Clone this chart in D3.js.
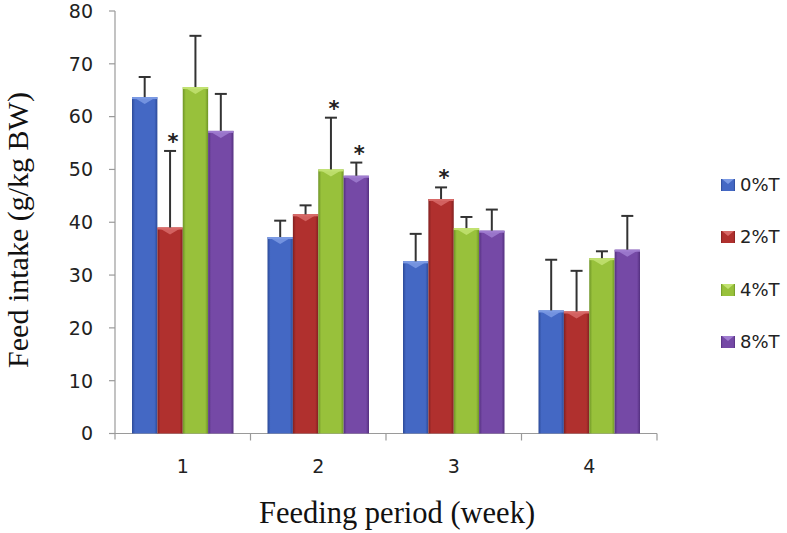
<!DOCTYPE html>
<html><head><meta charset="utf-8">
<script src="https://cdn.jsdelivr.net/npm/d3@7/dist/d3.min.js"></script>
<style>body{margin:0;background:#fff}svg{display:block}</style>
</head><body>
<svg id="c" width="787" height="533"></svg>
<script>
const categories = ["1","2","3","4"];
const seriesNames = ["0%T","2%T","4%T","8%T"];
const values0 = [63.7, 37.2, 32.6, 23.3];
const values2 = [39.0, 41.5, 44.4, 23.1];
const values4 = [65.6, 50.0, 38.9, 33.2];
const values8 = [57.3, 48.8, 38.4, 34.8];
const err0 = [3.8, 3.1, 5.2, 9.6];
const err2 = [14.5, 1.7, 2.2, 7.7];
const err4 = [9.7, 9.8, 2.1, 1.3];
const err8 = [7.0, 2.5, 4.0, 6.4];
const sig0 = [false,false,false,false];
const sig2 = [true,false,true,false];
const sig4 = [false,true,false,false];
const sig8 = [false,true,false,false];
const yTicks = [0,10,20,30,40,50,60,70,80];

const colors = ["#4468c4","#b0302e","#98c13b","#7549a6"];
const darks  = ["#2c4a98","#822020","#6e9426","#54307f"];
const lights = ["#7b9ae4","#d86a68","#c2e272","#a07dd0"];

const svg = d3.select("#c");
const x0 = 115, x1 = 657, yTop = 11, yBot = 433.5;
const x = d3.scaleBand().domain(categories).range([x0,x1]).paddingInner(0).paddingOuter(0);
const y = d3.scaleLinear().domain([0,80]).range([yBot,yTop]);
const inner = d3.scaleBand().domain(seriesNames).range([17, x.bandwidth()-17]).padding(0);

const tickFont = "DejaVu Sans, sans-serif";
const defs = svg.append("defs");
colors.forEach((c,i)=>{
  const g = defs.append("linearGradient").attr("id","g"+i).attr("x1","0").attr("x2","1").attr("y1","0").attr("y2","0");
  g.append("stop").attr("offset","0").attr("stop-color",darks[i]);
  g.append("stop").attr("offset","0.12").attr("stop-color",c);
  g.append("stop").attr("offset","0.5").attr("stop-color",c);
  g.append("stop").attr("offset","0.88").attr("stop-color",c);
  g.append("stop").attr("offset","1").attr("stop-color",darks[i]);
});

const vals = [values0,values2,values4,values8];
const errs = [err0,err2,err4,err8];
const sigs = [sig0,sig2,sig4,sig8];
const data = [];
seriesNames.forEach((s,si)=>categories.forEach((c,ci)=>data.push({s,si,c,v:vals[si][ci],e:errs[si][ci],sig:sigs[si][ci]})));

// axes
const axisColor = "#9a9a9a";
svg.append("line").attr("x1",x0).attr("x2",x0).attr("y1",yTop).attr("y2",yBot+6).attr("stroke",axisColor).attr("stroke-width",1.2);
svg.append("line").attr("x1",x0).attr("x2",x1).attr("y1",yBot).attr("y2",yBot).attr("stroke",axisColor).attr("stroke-width",1.2);
yTicks.forEach(t=>{
  svg.append("line").attr("x1",x0-6).attr("x2",x0).attr("y1",y(t)).attr("y2",y(t)).attr("stroke",axisColor).attr("stroke-width",1.2);
  svg.append("text").attr("x",93).attr("y",y(t)).attr("dy","0.36em").attr("text-anchor","end")
    .attr("font-family",tickFont).attr("font-size",19).attr("fill","#222").text(t);
});
categories.forEach(c=>{
  const xr = x(c)+x.bandwidth();
  svg.append("line").attr("x1",xr).attr("x2",xr).attr("y1",yBot).attr("y2",yBot+7).attr("stroke",axisColor).attr("stroke-width",1.2);
  svg.append("text").attr("x",x(c)+x.bandwidth()/2).attr("y",466).attr("dy","0.36em").attr("text-anchor","middle")
    .attr("font-family",tickFont).attr("font-size",19).attr("fill","#222").text(c);
});

// bars
const bars = svg.append("g");
data.forEach(d=>{
  const bx = x(d.c)+inner(d.s), bw = inner.bandwidth();
  const ty = y(d.v);
  bars.append("rect").attr("x",bx).attr("y",ty).attr("width",bw).attr("height",yBot-ty).attr("fill",`url(#g${d.si})`);
  bars.append("path").attr("d",`M${bx+1},${ty} L${bx+bw-1},${ty} L${bx+bw/2},${ty+7} Z`).attr("fill",lights[d.si]).attr("opacity",0.85);
  bars.append("rect").attr("x",bx).attr("y",ty).attr("width",bw).attr("height",2).attr("fill",lights[d.si]);
});
// error bars
const eg = svg.append("g").attr("stroke","#333").attr("stroke-width",2);
data.forEach(d=>{
  const cx = x(d.c)+inner(d.s)+inner.bandwidth()/2;
  const ey = y(d.v+d.e);
  eg.append("line").attr("x1",cx).attr("x2",cx).attr("y1",y(d.v)).attr("y2",ey);
  eg.append("line").attr("x1",cx-6).attr("x2",cx+6).attr("y1",ey).attr("y2",ey);
  if(d.sig){
    svg.append("text").attr("x",cx+3).attr("y",ey-2).attr("text-anchor","middle")
      .attr("font-family","DejaVu Sans, sans-serif").attr("font-size",21).attr("font-weight","bold").attr("fill","#222").text("*");
  }
});

// legend
const legY = [185,237,290,342];
seriesNames.forEach((s,i)=>{
  svg.append("rect").attr("x",721).attr("y",legY[i]-6).attr("width",14).attr("height",12).attr("fill",`url(#g${i})`);
  svg.append("path").attr("d",`M722,${legY[i]-6} L734,${legY[i]-6} L728,${legY[i]-1} Z`).attr("fill",lights[i]);
  svg.append("text").attr("x",740).attr("y",legY[i]).attr("dy","0.36em")
    .attr("font-family",tickFont).attr("font-size",18).attr("fill","#222").text(s);
});

// titles
svg.append("text").attr("x",397).attr("y",523).attr("text-anchor","middle")
  .attr("font-family","Liberation Serif, serif").attr("font-size",30.5).attr("fill","#111").text("Feeding period (week)");
svg.append("text").attr("transform","translate(28,230) rotate(-90)").attr("text-anchor","middle")
  .attr("font-family","Liberation Serif, serif").attr("font-size",30).attr("fill","#111").text("Feed intake (g/kg BW)");
</script>
</body></html>
